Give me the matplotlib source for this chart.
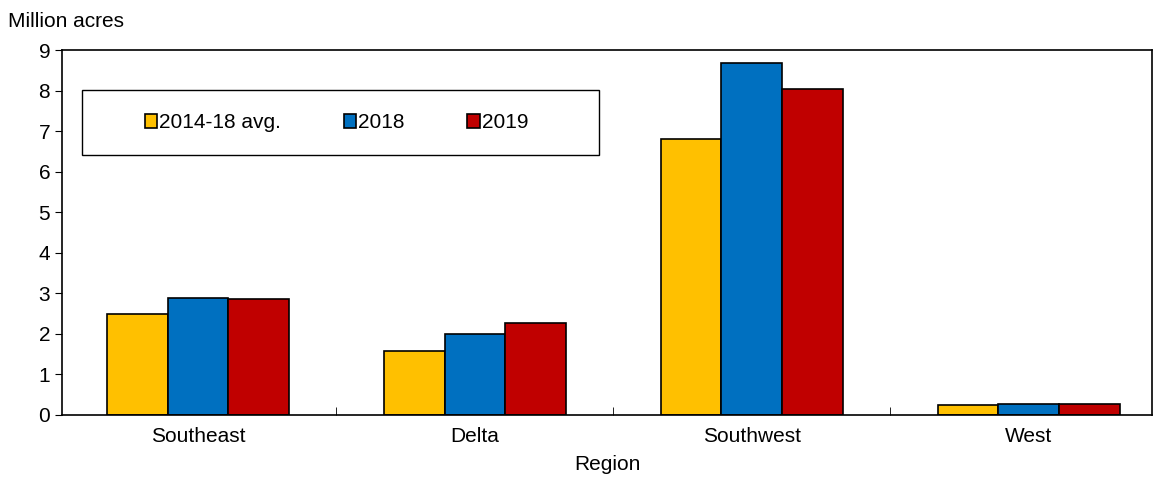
import numpy as np
import matplotlib
matplotlib.use("Agg")
import matplotlib.pyplot as plt
from matplotlib.patches import Rectangle

plt.rcParams['font.family'] = ['Liberation Sans', 'DejaVu Sans']
plt.rcParams['font.size'] = 15

regions = ["Southeast", "Delta", "Southwest", "West"]
avg_14_18 = [2.5, 1.58, 6.8, 0.25]
y2018 = [2.88, 1.99, 8.69, 0.28]
y2019 = [2.85, 2.28, 8.05, 0.26]
series = [("2014-18 avg.", avg_14_18, "#FFC000"),
          ("2018", y2018, "#0070C0"),
          ("2019", y2019, "#C00000")]

fig = plt.figure(figsize=(11.57, 4.87), dpi=100)
ax = fig.add_axes([0.0536, 0.148, 0.942, 0.749])

x = np.arange(len(regions))
w = 0.22
for i, (lab, vals, col) in enumerate(series):
    ax.bar(x + (i - 1) * w, vals, w, color=col, edgecolor="black", linewidth=1.2, label=lab)

ax.set_xlim(-0.491, 3.444)
ax.set_ylim(0, 9)
ax.set_yticks(range(10))
ax.set_xticks(x)
ax.set_xticklabels(regions)
ax.set_xticks([0.5, 1.5, 2.5], minor=True)
ax.tick_params(axis="x", which="major", length=0, pad=9)
ax.tick_params(axis="x", which="minor", length=6, direction="in")
ax.tick_params(axis="y", length=5, direction="out")
for s in ax.spines.values():
    s.set_linewidth(1.2)
ax.set_xlabel("Region", labelpad=6)
fig.text(0.007, 0.955, "Million acres", va="center")

ax.add_patch(Rectangle((0.018, 0.712), 0.475, 0.178, transform=ax.transAxes,
                       facecolor="white", edgecolor="black", linewidth=1, zorder=4))
leg = ax.legend(loc="center", bbox_to_anchor=(0.252, 0.801), ncol=3, frameon=False,
                handlelength=0.6, handleheight=0.6, handletextpad=0.1, columnspacing=3.0)
leg.set_zorder(5)

fig.savefig("out.png", dpi=100)
